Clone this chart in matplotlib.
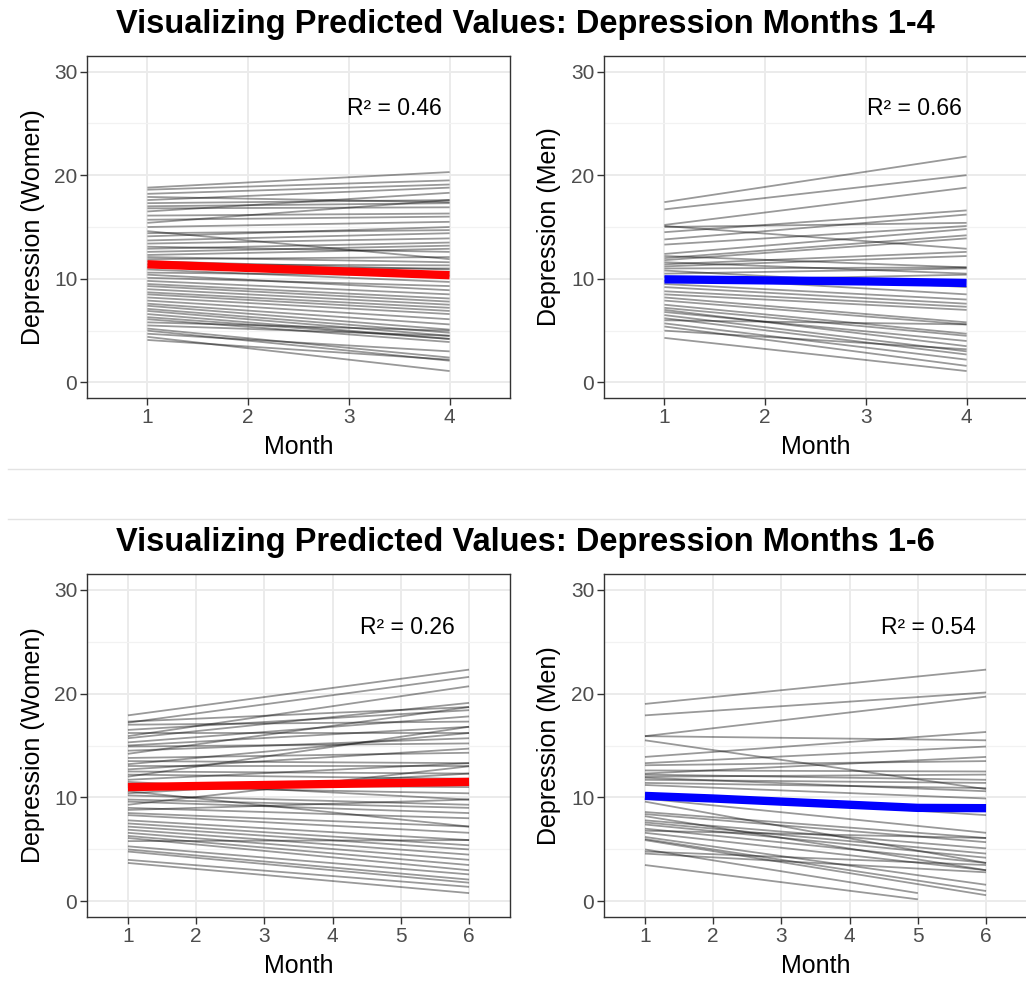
import matplotlib
matplotlib.use("Agg")
import matplotlib.pyplot as plt
from matplotlib.lines import Line2D
import numpy as np

plt.rcParams['font.family'] = ['Liberation Sans', 'DejaVu Sans']

# Predicted depression, months 1-4: value at month 1 and at month 4 per person
women4_start = [18.8, 18.6, 18.2, 17.9, 17.6, 17.3, 17.0, 16.8, 16.5, 16.1,
                15.7, 15.4, 15.0, 14.6, 14.4, 14.1, 13.7, 13.4, 13.1, 12.9,
                12.6, 12.3, 12.1, 11.9, 11.7, 11.4, 11.1, 10.9, 10.6, 10.4,
                10.1, 9.8, 9.5, 9.3, 9.0, 8.7, 8.5, 8.2, 7.9, 7.6,
                7.4, 7.1, 6.9, 6.6, 6.3, 6.1, 5.8, 5.5, 5.2, 5.0,
                4.7, 4.4, 4.1]
women4_end = [20.3, 19.5, 19.1, 17.4, 18.8, 17.6, 17.3, 16.9, 18.3, 16.3,
              16.0, 17.6, 15.5, 11.9, 14.7, 15.0, 14.4, 13.9, 12.6, 13.5,
              13.2, 12.9, 11.6, 12.1, 10.9, 11.3, 11.0, 9.7, 10.3, 8.9,
              9.3, 8.5, 8.1, 7.8, 7.5, 7.2, 6.9, 6.6, 6.1, 5.6,
              5.1, 4.8, 4.5, 4.2, 4.2, 3.9, 5.0, 4.5, 2.4, 2.1,
              3.0, 1.1, 2.2]
women4_mean = [11.4, 11.05, 10.7, 10.35]

men4_start = [17.4, 16.7, 15.2, 15.1, 15.0, 14.5, 13.8, 13.3, 12.4, 12.2,
              12.0, 11.8, 11.6, 11.4, 11.2, 11.0, 10.8, 10.5, 10.2, 9.8,
              9.5, 9.2, 8.8, 8.5, 8.2, 7.9, 7.5, 7.2, 7.0, 6.8,
              6.5, 6.2, 6.0, 5.7, 5.4, 5.0, 4.3]
men4_end = [21.8, 20.0, 18.8, 12.9, 15.4, 16.6, 16.2, 15.1, 14.8, 11.1,
            14.2, 13.9, 10.5, 12.6, 12.2, 11.1, 9.2, 11.0, 8.5, 10.4,
            8.0, 7.6, 7.3, 7.0, 5.8, 5.6, 4.7, 4.5, 3.5, 4.0,
            3.0, 2.7, 5.6, 2.2, 1.6, 3.2, 1.1]
men4_mean = [9.95, 9.85, 9.75, 9.6]

# Predicted depression, months 1-6
women6_start = [17.9, 17.3, 17.2, 17.0, 16.5, 16.2, 15.9, 15.7, 15.3, 15.0,
                14.9, 14.5, 14.2, 13.8, 13.5, 13.2, 13.0, 12.7, 12.5, 12.2,
                12.0, 11.7, 11.5, 11.2, 11.0, 10.6, 10.4, 10.2, 9.8, 9.6,
                9.3, 9.0, 8.8, 8.5, 8.3, 7.8, 7.5, 7.2, 6.9, 6.6,
                6.3, 6.1, 5.8, 5.3, 5.0, 4.8, 4.0, 3.7]
women6_end = [22.3, 18.7, 21.6, 17.3, 18.4, 16.2, 20.7, 19.1, 17.8, 16.8,
              15.2, 15.7, 18.7, 14.3, 13.3, 16.2, 13.0, 14.7, 12.3, 11.8,
              16.8, 13.3, 9.8, 11.0, 10.4, 7.2, 12.3, 9.3, 9.0, 8.5,
              13.0, 8.0, 9.8, 7.2, 6.6, 5.9, 5.4, 5.0, 4.5, 4.0,
              3.5, 3.0, 5.9, 2.6, 2.1, 1.8, 1.4, 0.8]
women6_mean = [11.0, 11.1, 11.2, 11.3, 11.4, 11.5]

men6_start = [19.0, 17.9, 15.9, 15.9, 15.5, 13.9, 13.3, 13.1, 12.6, 12.3,
              12.2, 12.0, 11.9, 11.7, 11.4, 11.2, 10.4, 9.9, 9.6, 8.6,
              8.4, 8.2, 7.8, 7.6, 7.4, 7.0, 6.8, 6.6, 6.2, 6.0,
              5.9, 5.0, 4.8, 4.6, 3.5]
men6_end = [22.3, 20.1, 19.7, 15.5, 10.8, 16.3, 14.9, 13.5, 12.5, 13.9,
            11.7, 12.2, 10.6, 11.4, 10.9, 9.9, 8.3, 6.6, 3.7, 6.1,
            5.7, 3.0, 5.1, 4.6, 4.2, 3.7, 6.1, 3.0, 1.6, 1.0,
            0.6, 0.8, 3.5, 2.8, 0.2]
# last observed month (two men drop out after month 5)
men6_last = [6] * 31 + [5, 6, 6, 5]
men6_mean = [10.15, 9.9, 9.6, 9.3, 9.0, 8.97]

r2_values = ["0.46", "0.66", "0.26", "0.54"]

W, H = 1026, 982
fig = plt.figure(figsize=(W / 100, H / 100), dpi=100)


def draw_panel(ax, n_months, starts, ends, mean_vals, color, ylabel, r2, r2_x,
               ylab_x, last=None):
    months = np.arange(1, n_months + 1)
    if last is None:
        last = [n_months] * len(starts)
    for s, e, m in zip(starts, ends, last):
        ax.plot([1, m], [s, e], color='black', alpha=0.4, lw=1.3,
                solid_capstyle='butt', zorder=2)
    ax.plot(months, mean_vals, color=color, lw=6, solid_capstyle='butt',
            zorder=3)
    ax.text(r2_x, 26.4, "R\u00b2 = " + r2, fontsize=16.5, ha='center',
            va='center', color='black', zorder=4)

    ax.set_xlim(0.4, n_months + 0.6)
    ax.set_ylim(-1.5, 31.5)
    ax.set_xticks(months)
    ax.set_yticks([0, 10, 20, 30])
    ax.set_yticks([5, 15, 25], minor=True)
    ax.grid(True, which='major', color='#ebebeb', lw=1.4, zorder=0)
    ax.grid(True, which='minor', axis='y', color='#f2f2f2', lw=0.9, zorder=0)
    ax.set_axisbelow(True)
    ax.tick_params(which='major', length=5, width=1, color='#333333',
                   labelsize=15, labelcolor='#4d4d4d', pad=2)
    ax.tick_params(which='minor', length=0)
    for sp in ax.spines.values():
        sp.set_color('#333333')
        sp.set_linewidth(1.0)
    ax.set_xlabel("Month", fontsize=18, va='center')
    ax.set_ylabel(ylabel, fontsize=18, va='center')
    ax.xaxis.set_label_coords(0.5, -0.143)
    ax.yaxis.set_label_coords(ylab_x, 0.5)


def px_axes(left, top, right, bottom):
    return fig.add_axes([left / W, 1 - bottom / H, (right - left) / W,
                         (bottom - top) / H])


ax1 = px_axes(87, 56, 510, 398)
ax2 = px_axes(604, 56, 1027, 398)
ax3 = px_axes(87, 574, 510, 917)
ax4 = px_axes(604, 574, 1027, 917)

draw_panel(ax1, 4, women4_start, women4_end, women4_mean, '#ff0000',
           "Depression (Women)", r2_values[0], 3.45, -0.128)
draw_panel(ax2, 4, men4_start, men4_end, men4_mean, '#0000ff',
           "Depression (Men)", r2_values[1], 3.48, -0.130)
draw_panel(ax3, 6, women6_start, women6_end, women6_mean, '#ff0000',
           "Depression (Women)", r2_values[2], 5.1, -0.128)
draw_panel(ax4, 6, men6_start, men6_end, men6_mean, '#0000ff',
           "Depression (Men)", r2_values[3], 5.15, -0.130, last=men6_last)

fig.text(525 / W, 1 - 25 / H, "Visualizing Predicted Values: Depression Months 1-4",
         fontsize=23.5, fontweight='bold', ha='center', va='center')
fig.text(525 / W, 1 - 542 / H, "Visualizing Predicted Values: Depression Months 1-6",
         fontsize=23.5, fontweight='bold', ha='center', va='center')

# thin separators between the two charts
for y in (469, 519):
    fig.add_artist(Line2D([8 / W, 1], [1 - y / H] * 2, color='#e3e3e3', lw=1))

fig.savefig("out.png", dpi=100)
